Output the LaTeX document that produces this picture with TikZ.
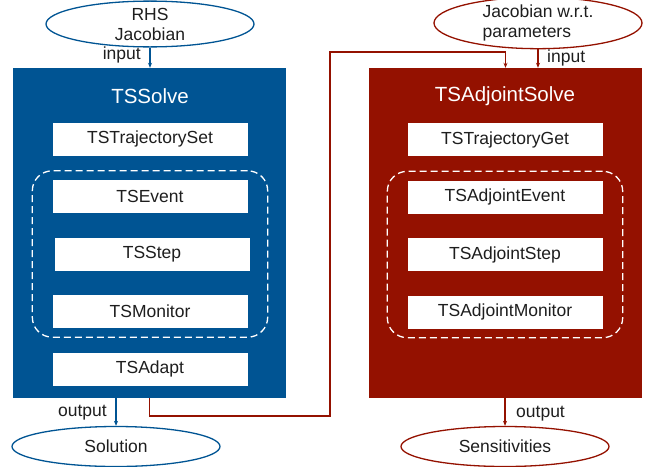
\documentclass[tikz,border=0pt]{standalone}
\usepackage{fontspec}
\setmainfont{Liberation Sans}
\usetikzlibrary{positioning,arrows.meta,fit,shapes.geometric}
\definecolor{tsblue}{RGB}{0,84,147}
\definecolor{adjred}{RGB}{148,17,0}
\definecolor{labgray}{RGB}{30,30,30}

\begin{document}
\begin{tikzpicture}[
  x=1pt,y=-1pt,
  >={Stealth[length=5pt,width=4pt]},
  solvebox/.style={rectangle,fill=#1,draw=none,minimum width=273pt,minimum height=330pt,inner sep=0pt},
  titlelab/.style={font=\fontsize{20.5}{24}\selectfont,text=white,inner sep=0pt},
  funcbox/.style={rectangle,fill=white,draw=none,minimum width=195pt,minimum height=33pt,inner sep=0pt,
                  font=\fontsize{17.5}{20}\selectfont,text=labgray},
  groupbox/.style={rectangle,draw=white,line width=1.3pt,dash pattern=on 7pt off 4pt,
                   rounded corners=20pt,inner xsep=20pt,inner ysep=9pt},
  dataell/.style={ellipse,draw=#1,line width=1.3pt,minimum width=208pt,minimum height=40pt,inner sep=0pt,
                  font=\fontsize{17.5}{20}\selectfont,text=labgray},
  edgelab/.style={font=\fontsize{17.5}{20}\selectfont,text=labgray,inner sep=0pt},
  flow/.style={->,line width=1.1pt,draw=#1}
]
\useasboundingbox (0,0) rectangle (652,466);

% Forward solve (blue)
\node[solvebox=tsblue] (tssolve) at (149.5,233) {};
\node[titlelab] (tstitle) at (150,96) {TSSolve};
\node[funcbox] (trajset) at (150,139) {TSTrajectorySet};
\node[funcbox] (tsevent) at (150,196.5) {TSEvent};
\node[funcbox] (tsstep) at (152,254.5) {TSStep};
\node[funcbox] (tsmonitor) at (150,311.5) {TSMonitor};
\node[funcbox] (tsadapt) at (150,369) {TSAdapt};
\node[groupbox,fit=(tsevent)(tsmonitor)] (tsgroup) {};

% Adjoint solve (red)
\node[solvebox=adjred] (adjsolve) at (505.5,233) {};
\node[titlelab] (adjtitle) at (505,96) {TSAdjointSolve};
\node[funcbox] (trajget) at (505,139.5) {TSTrajectoryGet};
\node[funcbox] (adjevent) at (505,197) {TSAdjointEvent};
\node[funcbox] (adjstep) at (505,254.5) {TSAdjointStep};
\node[funcbox] (adjmonitor) at (505,312) {TSAdjointMonitor};
\node[groupbox,fit=(adjevent)(adjmonitor)] (adjgroup) {};

% Inputs and outputs
\node[dataell=tsblue,align=center] (rhs) at (150,24) {RHS\\Jacobian};
\node[dataell=adjred,align=left] (jacp) at (538,23) {Jacobian w.r.t.\\parameters};
\node[dataell=tsblue] (sol) at (116,446.5) {Solution};
\node[dataell=adjred] (sens) at (505,446.5) {Sensitivities};

\draw[flow=tsblue] (rhs.south) -- (rhs.south |- tssolve.north);
\node[edgelab,anchor=east] (rhsin) at (141,55) {input};
\draw[flow=adjred] (jacp.south) -- (jacp.south |- adjsolve.north);
\node[edgelab,anchor=west] (jacpin) at (547,58) {input};

\draw[flow=tsblue] (sol.north |- tssolve.south) -- (sol.north);
\node[edgelab,anchor=east] (solout) at (107,413) {output};
\draw[flow=adjred] (sens.north |- adjsolve.south) -- (sens.north);
\node[edgelab,anchor=west] (sensout) at (516,414) {output};

% Trajectory handed to the adjoint
\coordinate (lowturn) at (330,416);
\coordinate (highturn) at (330,52);
\draw[flow=adjred] (tssolve.south) |- (lowturn) -- (highturn) -| (adjsolve.north);

\end{tikzpicture}
\end{document}
